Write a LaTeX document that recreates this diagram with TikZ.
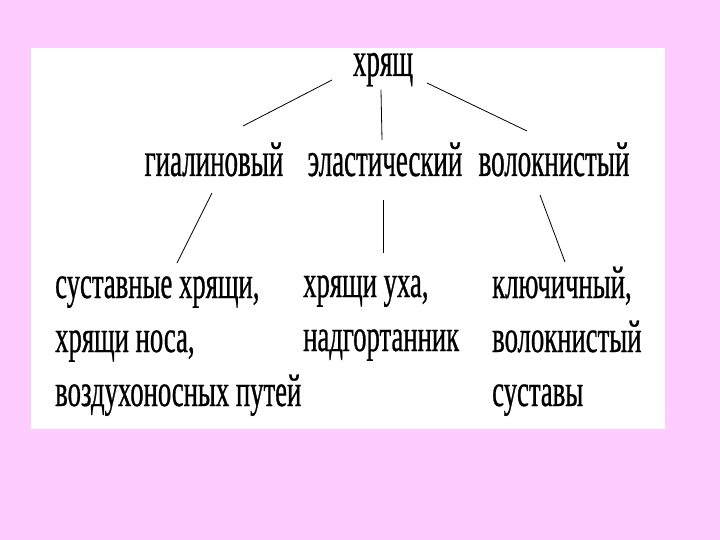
\documentclass[tikz,border=0pt]{standalone}
\usepackage{fontspec}
\setmainfont[FakeStretch=0.55, FakeBold=0.6]{Liberation Serif}
\newfontfamily\narrowfont[FakeStretch=0.58, FakeBold=0.6]{Liberation Serif}
\definecolor{slidepink}{HTML}{FFCCFF}
\tikzset{
  head/.style={anchor=base, inner sep=0pt, font=\fontsize{49}{54}\selectfont},
  kind/.style={anchor=base west, inner sep=0pt, align=left, font=\narrowfont\fontsize{46}{54}\selectfont},
  link/.style={line width=0.8pt}
}
\begin{document}
\begin{tikzpicture}[x=1pt, y=-1pt]
    % Slide
    \fill[slidepink] (0,0) rectangle (720,540);
    \fill[white] (31,48) rectangle (665,429);
    \useasboundingbox (0,0) rectangle (720,540);

    % Root and the three kinds
    \node[head] (root) at (383,76) {хрящ};
    \node[head] (gial) at (214,176) {гиалиновый};
    \node[head] (elast) at (385,176) {эластический};
    \node[head] (fibr) at (554,176) {волокнистый};

    % Examples (placed at the baseline of their last line)
    \node[kind] (gialex) at (55,406) {суставные хрящи,\\хрящи носа,\\воздухоносных путей};
    \node[kind] (elastex) at (303,351) {хрящи уха,\\надгортанник};
    \node[kind] (fibrex) at (492,406) {ключичный,\\волокнистый\\суставы};

    % Line ends
    \coordinate (r1) at (332,80);  \coordinate (g1) at (243,126);
    \coordinate (r2) at (381,90);  \coordinate (e1) at (382,140);
    \coordinate (r3) at (427,83);  \coordinate (f1) at (527,131);
    \coordinate (g2) at (212,193); \coordinate (gx) at (177,263);
    \coordinate (e2) at (383,200); \coordinate (ex) at (383,253);
    \coordinate (f2) at (540,195); \coordinate (fx) at (565,262);

    % Links
    \draw[link] (r1) -- (g1);
    \draw[link] (r2) -- (e1);
    \draw[link] (r3) -- (f1);
    \draw[link] (g2) -- (gx);
    \draw[link] (e2) -- (ex);
    \draw[link] (f2) -- (fx);
\end{tikzpicture}
\end{document}
